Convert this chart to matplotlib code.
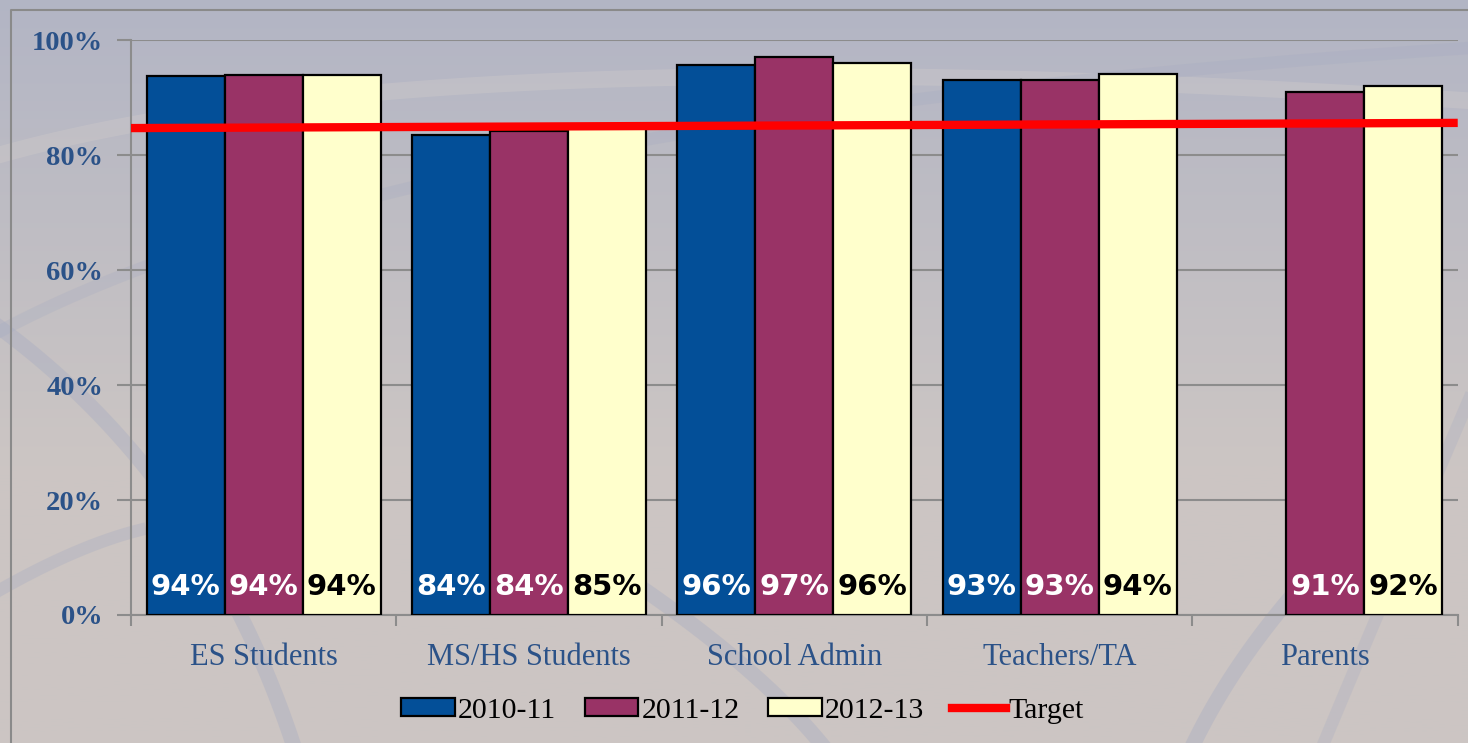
import numpy as np
import matplotlib.pyplot as plt
from matplotlib.patches import Rectangle
from matplotlib.lines import Line2D

# data
categories = ["ES Students", "MS/HS Students", "School Admin", "Teachers/TA", "Parents"]
series_names = ["2010-11", "2011-12", "2012-13"]
vals_2010 = [93.7, 83.5, 95.7, 93.0, np.nan]
vals_2011 = [94.0, 84.2, 97.0, 93.0, 91.0]
vals_2012 = [94.0, 84.9, 96.0, 94.1, 92.0]
labels_2010 = ["94%", "84%", "96%", "93%", ""]
labels_2011 = ["94%", "84%", "97%", "93%", "91%"]
labels_2012 = ["94%", "85%", "96%", "94%", "92%"]
target_ends = [84.7, 85.6]

colors = ["#034f98", "#993366", "#ffffcc"]
label_colors = ["white", "white", "black"]
axis_blue = "#2b5288"

fig = plt.figure(figsize=(14.68, 7.43), dpi=100)

# background: gradient plus a few faint decorative swooshes
bg = fig.add_axes([0, 0, 1, 1], zorder=-10)
grad = np.linspace(0, 1, 256).reshape(-1, 1)
top = np.array([0.70, 0.71, 0.77])
bot = np.array([0.80, 0.775, 0.765])
img = top + (bot - top) * np.clip(grad * 1.6, 0, 1)[:, :, None]
bg.imshow(img, aspect="auto", extent=[0, 1468, 743, 0])
bg.set_xlim(0, 1468)
bg.set_ylim(743, 0)
bg.axis("off")


def swoosh(p0, p1, p2, color, lw, alpha):
    t = np.linspace(0, 1, 100)
    xs = (1 - t) ** 2 * p0[0] + 2 * (1 - t) * t * p1[0] + t ** 2 * p2[0]
    ys = (1 - t) ** 2 * p0[1] + 2 * (1 - t) * t * p1[1] + t ** 2 * p2[1]
    bg.plot(xs, ys, color=color, lw=lw, alpha=alpha)


swoosh((-50, 170), (400, 20), (1600, 110), "#d2cdcb", 12, 0.35)
swoosh((-50, 360), (350, 110), (1600, 40), "#a3a9c2", 9, 0.25)
swoosh((-40, 300), (220, 470), (310, 800), "#a3a9c2", 11, 0.35)
swoosh((-50, 620), (60, 550), (140, 530), "#a3a9c2", 9, 0.3)
swoosh((600, 560), (800, 690), (860, 800), "#a3a9c2", 11, 0.35)
swoosh((1420, 470), (1230, 630), (1170, 800), "#a3a9c2", 11, 0.35)
swoosh((1300, 800), (1400, 560), (1520, 280), "#a3a9c2", 9, 0.25)
# outer frame
bg.plot([11, 11, 1468], [743, 10, 10], color="#8a8a8a", lw=1.5)

ax = fig.add_axes([0.0892, 0.1723, 0.9038, 0.7737])
ax.patch.set_alpha(0)

x = np.arange(len(categories))
w = 0.294
series = [vals_2010, vals_2011, vals_2012]
labels = [labels_2010, labels_2011, labels_2012]
for i, (vals, labs) in enumerate(zip(series, labels)):
    xs = x + (i - 1) * w
    ax.bar(xs, vals, width=w, color=colors[i], edgecolor="black", linewidth=1.6,
           label=series_names[i], zorder=3)
    for xi, lab in zip(xs, labs):
        if lab:
            ax.text(xi, 2.4, lab, ha="center", va="bottom", fontsize=21,
                    fontweight="bold", color=label_colors[i], family="DejaVu Sans", zorder=4)

ax.plot([-0.5, len(categories) - 0.5], target_ends, color="#ff0000", lw=6,
        solid_capstyle="butt", label="Target", zorder=5)

ax.set_xlim(-0.5, len(categories) - 0.5)
ax.set_ylim(0, 100)
ax.set_yticks(range(0, 101, 20))
ax.set_yticklabels([f"{v}%" for v in range(0, 101, 20)], fontsize=20.5, fontweight="bold",
                   color=axis_blue, family="Liberation Serif")
ax.yaxis.grid(True, color="#8c8c8c", lw=1.5, zorder=0)
ax.tick_params(axis="y", length=10, width=1.5, color="#8c8c8c", pad=10)

ax.set_xticks(x)
ax.set_xticklabels(categories, fontsize=22, color=axis_blue, family="Liberation Serif")
ax.set_xticks(np.arange(-0.5, len(categories)), minor=True)
ax.tick_params(axis="x", which="major", length=0, pad=20)
ax.tick_params(axis="x", which="minor", length=8, width=1.5, color="#8c8c8c")

for s in ["top", "right"]:
    ax.spines[s].set_visible(False)
for s in ["left", "bottom"]:
    ax.spines[s].set_color("#8c8c8c")
    ax.spines[s].set_linewidth(1.5)

handles = [Rectangle((0, 0), 1, 1, facecolor=c, edgecolor="black", lw=1.6) for c in colors]
handles.append(Line2D([0], [0], color="#ff0000", lw=6))
fig.legend(handles, series_names + ["Target"], loc="center", bbox_to_anchor=(0.506, 0.043),
           ncol=4, frameon=False, prop={"family": "Liberation Serif", "size": 21.5},
           handlelength=1.8, handleheight=0.55, handletextpad=0.1, columnspacing=0.95)

fig.savefig("out.png", dpi=100)
